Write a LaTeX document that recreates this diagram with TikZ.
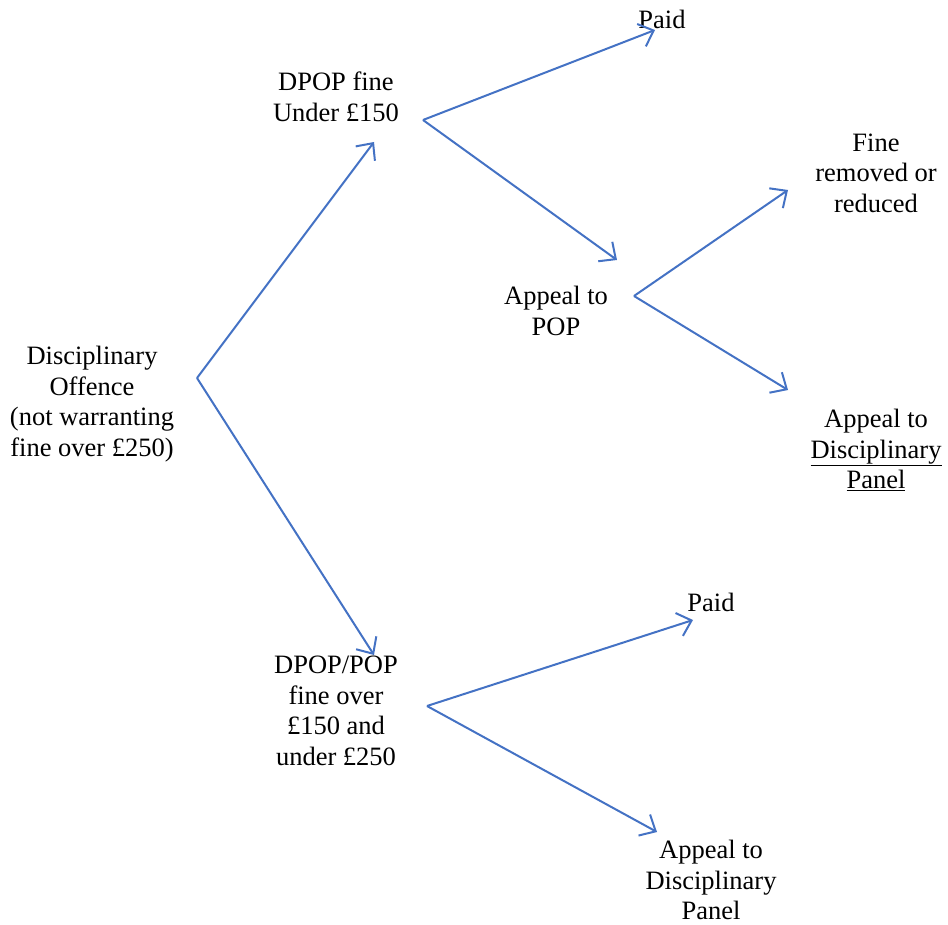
\documentclass[tikz,border=0pt]{standalone}
\usepackage{fontspec}
\setmainfont{Liberation Serif}
\newfontfamily\stagefont{Liberation Serif}
\usetikzlibrary{arrows.meta}
\definecolor{arrowblue}{RGB}{68,114,196}

\begin{document}
\begin{tikzpicture}[x=1pt, y=-1pt,
        stage/.style={align=center, inner sep=0pt,
              font=\stagefont\fontsize{26.5}{30.5}\selectfont},
        flow/.style={draw=arrowblue, line width=2pt,
              -{Straight Barb[length=13pt, width=24pt, line width=2pt]}}]
        \useasboundingbox (0,0) rectangle (948,925);
        % stages
        \node[stage] (offence) at (92,404) {Disciplinary\\Offence\\(not warranting\\fine over £250)};
        \node[stage] (smallfine) at (336,97) {DPOP fine\\Under £150};
        \node[stage] (paidtop) at (662,19) {Paid};
        \node[stage] (appealpop) at (556,311) {Appeal to\\POP};
        \node[stage] (removed) at (876,173) {Fine\\removed or\\reduced};
        \node[stage] (paneltop) at (876,450) {Appeal to\\\underline{Disciplinary}\\\underline{Panel}};
        \node[stage] (bigfine) at (336,711) {DPOP/POP\\fine over\\£150 and\\under £250};
        \node[stage] (paidbottom) at (711,602) {Paid};
        \node[stage] (panelbottom) at (711,880) {Appeal to\\Disciplinary\\Panel};
        % branch points and arrow ends
        \coordinate (offence-out) at (197,378);
        \coordinate (smallfine-in) at (374,142);
        \coordinate (bigfine-in) at (374,655);
        \coordinate (smallfine-out) at (423,120);
        \coordinate (paidtop-in) at (655,30);
        \coordinate (appealpop-in) at (617,260);
        \coordinate (appealpop-out) at (634,296);
        \coordinate (removed-in) at (788,190);
        \coordinate (paneltop-in) at (788,390);
        \coordinate (bigfine-out) at (427,706);
        \coordinate (paidbottom-in) at (693,620);
        \coordinate (panelbottom-in) at (657,832);
        % arrows
        \draw[flow] (offence-out) -- (smallfine-in);
        \draw[flow] (offence-out) -- (bigfine-in);
        \draw[flow] (smallfine-out) -- (paidtop-in);
        \draw[flow] (smallfine-out) -- (appealpop-in);
        \draw[flow] (appealpop-out) -- (removed-in);
        \draw[flow] (appealpop-out) -- (paneltop-in);
        \draw[flow] (bigfine-out) -- (paidbottom-in);
        \draw[flow] (bigfine-out) -- (panelbottom-in);
    \end{tikzpicture}
\end{document}
